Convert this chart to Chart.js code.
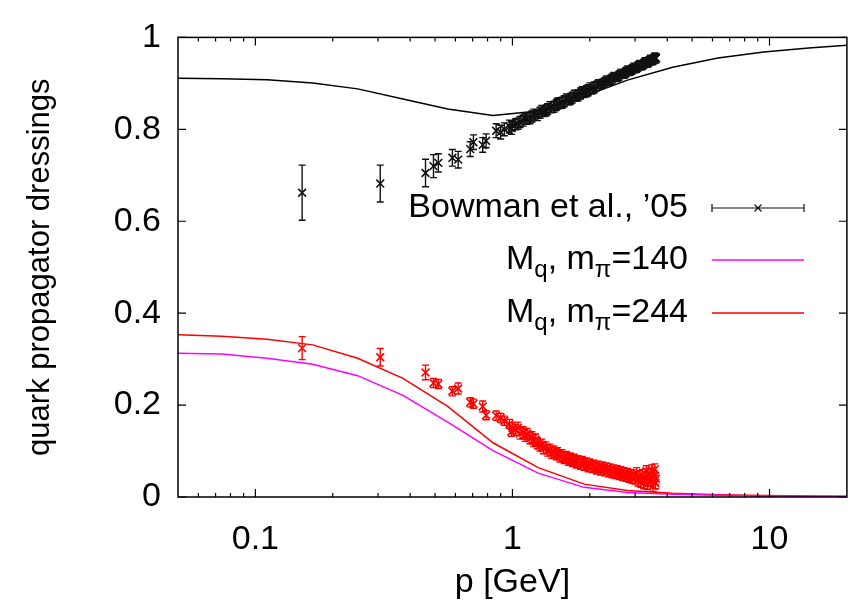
<!DOCTYPE html>
<html><head><meta charset="utf-8">
<script src="https://cdn.jsdelivr.net/npm/chart.js@4.4.0/dist/chart.umd.min.js"></script>
<style>html,body{margin:0;padding:0;background:#fff}</style>
</head><body>
<canvas id="c" width="854" height="607"></canvas>
<script>
// ---- data ----
const curveP = [0.05,0.074,0.111,0.167,0.25,0.375,0.56,0.84,1.26,1.9,2.8,4.2,6.3,9.5,14.2,20];
const zCurve = [0.911,0.910,0.908,0.901,0.888,0.866,0.844,0.830,0.840,0.872,0.907,0.935,0.955,0.968,0.977,0.983];
const mq140 = [0.313,0.311,0.302,0.289,0.264,0.221,0.163,0.101,0.052,0.021,0.010,0.006,0.004,0.002,0.0015,0.001];
const mq244 = [0.353,0.350,0.343,0.331,0.302,0.258,0.197,0.118,0.064,0.028,0.014,0.008,0.005,0.003,0.002,0.0015];

const latticeP = [0.152,0.306,0.459,0.493,0.515,0.584,0.615,0.685,0.705,0.766,0.79,0.864,0.90,0.93,0.973,0.99,
  1.00,1.03,1.05,1.07,1.10,1.12,1.14,1.17,1.19,1.21,
  1.23,1.25,1.28,1.30,1.32,1.35,1.37,1.40,1.42,1.45,
  1.48,1.50,1.53,1.56,1.59,1.62,1.65,1.68,1.71,1.74,
  1.77,1.80,1.84,1.87,1.90,1.94,1.97,2.00,2.04,2.08,
  2.12,2.16,2.20,2.24,2.28,2.32,2.36,2.40,2.44,2.48,
  2.52,2.56,2.60,2.64,2.68,2.72,2.76,2.80,2.84,2.88,
  2.92,2.96,3.00,3.04,3.08,3.12,3.16,3.20,3.24,3.28,
  3.32,3.36,3.40,3.44,3.48,3.52,3.55,3.58,3.60,3.62];
const latticeZ = [0.662,0.682,0.705,0.720,0.727,0.738,0.734,0.757,0.772,0.766,0.775,0.797,0.794,0.800,0.806,0.803,
  0.808,0.811,0.812,0.816,0.819,0.823,0.823,0.824,0.828,0.832,
  0.832,0.831,0.836,0.840,0.840,0.841,0.844,0.848,0.848,0.849,
  0.853,0.856,0.857,0.858,0.861,0.865,0.865,0.866,0.869,0.873,
  0.873,0.874,0.878,0.881,0.881,0.883,0.885,0.889,0.889,0.891,
  0.894,0.898,0.898,0.899,0.902,0.906,0.906,0.907,0.910,0.914,
  0.914,0.914,0.917,0.921,0.921,0.921,0.924,0.928,0.927,0.928,
  0.930,0.934,0.933,0.934,0.937,0.940,0.939,0.940,0.942,0.946,
  0.945,0.945,0.948,0.951,0.950,0.951,0.953,0.956,0.954,0.955];
const latticeZErr = [0.060,0.040,0.030,0.025,0.020,0.018,0.018,0.016,0.016,0.016,0.015,0.015,0.015,0.014,0.014,0.014,
  0.012,0.012,0.012,0.012,0.012,0.012,0.012,0.012,0.012,0.012,
  0.012,0.012,0.012,0.012,0.012,0.012,0.012,0.012,0.012,0.012,
  0.012,0.012,0.012,0.012,0.012,0.012,0.012,0.012,0.012,0.012,
  0.012,0.012,0.012,0.012,0.012,0.012,0.012,0.012,0.012,0.012,
  0.010,0.010,0.010,0.010,0.010,0.010,0.010,0.010,0.010,0.010,
  0.010,0.010,0.010,0.010,0.010,0.010,0.010,0.010,0.010,0.010,
  0.010,0.010,0.010,0.010,0.010,0.010,0.010,0.010,0.010,0.010,
  0.010,0.010,0.010,0.010,0.010,0.010,0.010,0.010,0.010,0.010];
const latticeM = [0.324,0.304,0.271,0.248,0.246,0.230,0.236,0.206,0.203,0.197,0.178,0.177,0.172,0.166,0.159,0.142,
  0.150,0.146,0.151,0.138,0.141,0.133,0.137,0.128,0.130,0.122,
  0.125,0.117,0.112,0.114,0.106,0.108,0.101,0.103,0.096,0.099,
  0.093,0.095,0.088,0.091,0.085,0.087,0.081,0.084,0.078,0.081,
  0.075,0.078,0.072,0.076,0.070,0.073,0.067,0.071,0.065,0.068,
  0.062,0.066,0.060,0.064,0.058,0.062,0.056,0.060,0.054,0.058,
  0.052,0.056,0.050,0.054,0.048,0.052,0.046,0.050,0.044,0.048,
  0.042,0.047,0.040,0.052,0.036,0.045,0.033,0.048,0.030,0.043,
  0.056,0.028,0.050,0.035,0.058,0.024,0.046,0.060,0.030,0.040];
const latticeMErr = [0.025,0.019,0.016,0.010,0.010,0.010,0.012,0.010,0.010,0.012,0.010,0.010,0.010,0.010,0.010,0.010,
  0.012,0.012,0.012,0.012,0.012,0.012,0.012,0.012,0.012,0.012,
  0.012,0.012,0.012,0.012,0.012,0.012,0.012,0.012,0.012,0.012,
  0.012,0.012,0.012,0.012,0.012,0.012,0.012,0.012,0.012,0.012,
  0.012,0.012,0.012,0.012,0.012,0.012,0.012,0.012,0.012,0.012,
  0.012,0.012,0.012,0.012,0.012,0.012,0.012,0.012,0.012,0.012,
  0.012,0.012,0.012,0.012,0.012,0.012,0.012,0.012,0.012,0.012,
  0.012,0.012,0.012,0.012,0.012,0.012,0.012,0.012,0.012,0.012,
  0.012,0.012,0.012,0.012,0.012,0.012,0.012,0.012,0.012,0.012];

const yTicks = [0,0.2,0.4,0.6,0.8,1];
const xMajorTicks = [0.1,1,10];
const xMinorFactors = [2,3,4,5,6,7,8,9];
const xTitle = 'p [GeV]';
const yTitle = 'quark propagator dressings';
const legendBowman = 'Bowman et al., \u201905';
const legendMass = 'M';
const legendMassSub = 'q';
const legendPion = ', m';
const legendPionSub = '\u03c0';
const pionMasses = ['=140','=244'];

const FONT = "'Liberation Sans', Arial, Helvetica, sans-serif";
const toXY = (xs, ys) => xs.map((x,i)=>({x:x, y:ys[i]}));

// ---- plugins ----
const bg = {id:'bg', beforeDraw(c){const g=c.ctx;g.save();g.fillStyle='#fff';g.fillRect(0,0,c.width,c.height);g.restore();}};

function drawErr(chart, p, v, e, color){
  const ctx = chart.ctx, xs = chart.scales.x, ys = chart.scales.y, a = chart.chartArea;
  ctx.save();
  ctx.beginPath(); ctx.rect(a.left, a.top, a.right-a.left, a.bottom-a.top); ctx.clip();
  ctx.strokeStyle = color; ctx.lineWidth = 1.4;
  ctx.beginPath();
  for (let i=0;i<p.length;i++){
    const x = xs.getPixelForValue(p[i]);
    const y1 = ys.getPixelForValue(v[i]-e[i]);
    const y2 = ys.getPixelForValue(v[i]+e[i]);
    ctx.moveTo(x,y1); ctx.lineTo(x,y2);
    ctx.moveTo(x-3.5,y1); ctx.lineTo(x+3.5,y1);
    ctx.moveTo(x-3.5,y2); ctx.lineTo(x+3.5,y2);
  }
  ctx.stroke(); ctx.restore();
}
const errPlugin = {id:'err', afterDatasetsDraw(chart){
  drawErr(chart, latticeP, latticeZ, latticeZErr, '#111');
  drawErr(chart, latticeP, latticeM, latticeMErr, '#ff0000');
}};

const frame = {id:'frame', afterDraw(chart){
  const ctx = chart.ctx, a = chart.chartArea, xs = chart.scales.x, ys = chart.scales.y;
  ctx.save();
  ctx.strokeStyle = '#000'; ctx.lineWidth = 1.5;
  ctx.strokeRect(a.left, a.top, a.right-a.left, a.bottom-a.top);
  ctx.lineWidth = 1.2;
  ctx.beginPath();
  yTicks.forEach(v=>{const y = ys.getPixelForValue(v);
    ctx.moveTo(a.left,y); ctx.lineTo(a.left+8,y);
    ctx.moveTo(a.right,y); ctx.lineTo(a.right-8,y);});
  const dec = [0.01,0.1,1,10];
  dec.forEach(d=>{
    xMinorFactors.forEach(k=>{const v=k*d; if(v>0.05 && v<20){const x=xs.getPixelForValue(v);
      ctx.moveTo(x,a.bottom); ctx.lineTo(x,a.bottom-4);
      ctx.moveTo(x,a.top); ctx.lineTo(x,a.top+4);}});
  });
  xMajorTicks.forEach(v=>{const x=xs.getPixelForValue(v);
    ctx.moveTo(x,a.bottom); ctx.lineTo(x,a.bottom-8);
    ctx.moveTo(x,a.top); ctx.lineTo(x,a.top+8);});
  ctx.stroke();
  ctx.restore();
}};

function drawCross(ctx, x, y, r){
  ctx.moveTo(x-r,y-r); ctx.lineTo(x+r,y+r);
  ctx.moveTo(x-r,y+r); ctx.lineTo(x+r,y-r);
}
const legend = {id:'customLegend', afterDraw(chart){
  const ctx = chart.ctx;
  const textRight = 688, x0 = 712, x1 = 804;
  const rows = [208, 260, 313];
  const main = '34px ' + FONT, sub = '24px ' + FONT;
  ctx.save();
  ctx.fillStyle = '#000'; ctx.textBaseline = 'middle'; ctx.textAlign = 'left';
  ctx.font = main;
  let w = ctx.measureText(legendBowman).width;
  ctx.fillText(legendBowman, textRight - w, rows[0]);
  ctx.strokeStyle = '#111'; ctx.lineWidth = 1.2;
  ctx.beginPath();
  ctx.moveTo(x0, rows[0]); ctx.lineTo(x1, rows[0]);
  ctx.moveTo(x0, rows[0]-4); ctx.lineTo(x0, rows[0]+4);
  ctx.moveTo(x1, rows[0]-4); ctx.lineTo(x1, rows[0]+4);
  drawCross(ctx, (x0+x1)/2, rows[0], 3.5);
  ctx.stroke();
  const colors = ['#ff00ff','#ff0000'];
  pionMasses.forEach((m,i)=>{
    const y = rows[i+1];
    const parts = [[legendMass,0],[legendMassSub,1],[legendPion,0],[legendPionSub,1],[m,0]];
    let total = 0;
    parts.forEach(pt=>{ctx.font = pt[1]?sub:main; total += ctx.measureText(pt[0]).width;});
    let x = textRight - total;
    parts.forEach(pt=>{ctx.font = pt[1]?sub:main; ctx.fillText(pt[0], x, y + (pt[1]?10:0)); x += ctx.measureText(pt[0]).width;});
    ctx.strokeStyle = colors[i]; ctx.lineWidth = 1.5;
    ctx.beginPath(); ctx.moveTo(x0,y); ctx.lineTo(x1,y); ctx.stroke();
  });
  ctx.restore();
}};

Chart.defaults.font.family = FONT;
Chart.defaults.font.size = 34;
Chart.defaults.color = '#000';

new Chart(document.getElementById('c'), {
  type: 'scatter',
  data: { datasets: [
    {label:'Bowman Z', data: toXY(latticeP, latticeZ), showLine:false, pointStyle:'crossRot', pointRadius:5.5, borderColor:'#111', backgroundColor:'#111', borderWidth:1.6},
    {label:'Bowman M', data: toXY(latticeP, latticeM), showLine:false, pointStyle:'crossRot', pointRadius:5.5, borderColor:'#ff0000', backgroundColor:'#ff0000', borderWidth:1.6},
    {label:'Z', data: toXY(curveP, zCurve), showLine:true, pointRadius:0, borderColor:'#000', borderWidth:1.5, tension:0},
    {label:'Mq 140', data: toXY(curveP, mq140), showLine:true, pointRadius:0, borderColor:'#ff00ff', borderWidth:1.5, tension:0},
    {label:'Mq 244', data: toXY(curveP, mq244), showLine:true, pointRadius:0, borderColor:'#ff0000', borderWidth:1.5, tension:0}
  ]},
  options: {
    responsive:false, animation:false, events:[],
    layout:{padding:{top:22, right:7, left:0, bottom:0}},
    plugins:{legend:{display:false}, tooltip:{enabled:false}},
    scales:{
      x:{type:'logarithmic', min:0.05, max:20,
        grid:{display:false, drawTicks:false}, border:{display:false},
        afterBuildTicks(s){ s.ticks = xMajorTicks.map(v=>({value:v, major:true})); },
        afterFit(s){ s.height = 110; },
        ticks:{autoSkip:false, maxRotation:0, padding:22, callback:(v)=>String(v)},
        title:{display:true, text:xTitle, padding:{top:0,bottom:4}}
      },
      y:{type:'linear', min:0, max:1,
        grid:{display:false, drawTicks:false}, border:{display:false},
        afterBuildTicks(s){ s.ticks = yTicks.map(v=>({value:v})); },
        afterFit(s){ s.width = 178; },
        ticks:{padding:17, callback:(v)=>String(Math.round(v*10)/10)},
        title:{display:true, text:yTitle, font:{size:31}, padding:{top:22,bottom:0}}
      }
    }
  },
  plugins:[bg, errPlugin, frame, legend]
});
</script>
</body></html>
